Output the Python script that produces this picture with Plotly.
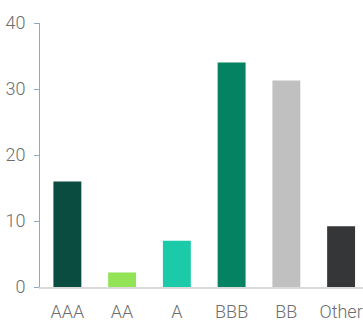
import plotly.graph_objects as go

categories = ["AAA", "AA", "A", "BBB", "BB", "Other"]
values = [16.0, 2.2, 7.0, 34.0, 31.3, 9.2]
colors = ["#0a4c40", "#92e356", "#1bcaa8", "#058262", "#c0c0c0", "#353638"]
y_ticks = [0, 10, 20, 30, 40]

font_family = "Roboto, Liberation Sans, sans-serif"
text_color = "#6e6e6e"

fig = go.Figure(
    go.Bar(
        x=list(range(len(categories))),
        y=values,
        marker=dict(color=colors, line=dict(width=0)),
        width=0.51,
    )
)

fig.update_layout(
    width=363,
    height=322,
    margin=dict(l=40, r=0, t=23, b=35, autoexpand=False),
    paper_bgcolor="white",
    plot_bgcolor="white",
    showlegend=False,
    font=dict(family=font_family, color=text_color, size=17),
)

fig.update_xaxes(
    range=[-0.5, 5.4],
    tickmode="array",
    tickvals=list(range(len(categories))),
    ticktext=categories,
    showline=True,
    linecolor="#d9d9d9",
    linewidth=2,
    showgrid=False,
    zeroline=False,
    ticks="",
    automargin=False,
    ticklabelstandoff=7,
    ticklabeloverflow="allow",
    tickfont=dict(size=18, family=font_family, color=text_color, weight=300),
)

fig.update_yaxes(
    range=[0, 40],
    tickmode="array",
    tickvals=y_ticks,
    showline=True,
    linecolor="#8fa9c0",
    linewidth=1,
    ticks="outside",
    tickcolor="#8fa9c0",
    ticklen=5,
    showgrid=False,
    zeroline=False,
    automargin=False,
    ticklabelstandoff=5,
    tickfont=dict(size=18, family=font_family, color=text_color, weight=300),
)

fig.write_html("out.html")
